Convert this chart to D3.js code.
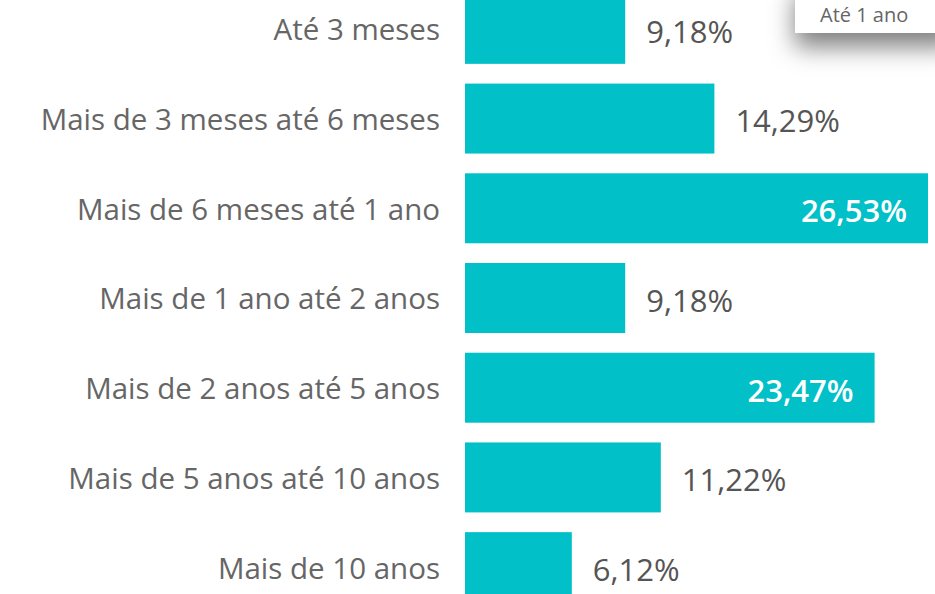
<!DOCTYPE html>
<html>
<head>
<meta charset="utf-8">
<script src="https://cdn.jsdelivr.net/npm/d3@7"></script>
<style>
    body { margin: 0; background: #fff; overflow: hidden; }
    svg { display: block; }
</style>
</head>
<body>
<script>
const categories = ["Até 3 meses", "Mais de 3 meses até 6 meses", "Mais de 6 meses até 1 ano", "Mais de 1 ano até 2 anos", "Mais de 2 anos até 5 anos", "Mais de 5 anos até 10 anos", "Mais de 10 anos"];
const values = [9.18, 14.29, 26.53, 9.18, 23.47, 11.22, 6.12];
const tooltipText = "Até 1 ano";

const width = 935;
const height = 594;
const font = "'Open Sans', 'Noto Sans', sans-serif";

let svg = d3.select("body")
    .append("svg")
    .attr("width", width)
    .attr("height", height);

const data = categories.map((c, i) => ({ cat: c, val: values[i] }));

//scales
let yScale = d3.scaleBand()
    .domain(categories)
    .range([-16, 612])
    .paddingInner(0.22)
    .paddingOuter(0.11);

let xScale = d3.scaleLinear()
    .domain([0, d3.max(values)])
    .range([465, 928]);

//bars
svg.selectAll("rect.bar")
    .data(data)
    .enter()
    .append("rect")
    .attr("class", "bar")
    .attr("x", xScale(0))
    .attr("y", d => yScale(d.cat))
    .attr("width", d => xScale(d.val) - xScale(0))
    .attr("height", yScale.bandwidth())
    .attr("fill", "#01c0c8");

//value labels
const fmt = v => v.toFixed(2).replace(".", ",") + "%";
svg.selectAll("text.val")
    .data(data)
    .enter()
    .append("text")
    .attr("class", "val")
    .attr("x", d => d.val > 20 ? xScale(d.val) - 21 : xScale(d.val) + 21)
    .attr("y", d => yScale(d.cat) + yScale.bandwidth() / 2 + 3)
    .attr("dy", "0.35em")
    .attr("text-anchor", d => d.val > 20 ? "end" : "start")
    .attr("fill", d => d.val > 20 ? "#ffffff" : "#555555")
    .attr("font-family", font)
    .attr("font-weight", d => d.val > 20 ? 600 : 400)
    .attr("font-size", 31)
    .text(d => fmt(d.val));

//category axis
const yAxis = d3.axisLeft(yScale).tickSize(0).tickPadding(25);
let gy = svg.append("g")
    .attr("transform", `translate(${xScale(0)}, 2)`)
    .call(yAxis);
gy.select(".domain").remove();
gy.selectAll("text")
    .attr("fill", "#666666")
    .attr("font-family", font)
    .attr("font-size", 29.5);

//tooltip remnant
let defs = svg.append("defs");
let f = defs.append("filter").attr("id", "shadow").attr("x", "-30%").attr("y", "-30%").attr("width", "160%").attr("height", "300%");
f.append("feDropShadow").attr("dx", 0).attr("dy", 14).attr("stdDeviation", 12).attr("flood-color", "#000").attr("flood-opacity", 0.5);

svg.append("rect")
    .attr("x", 795)
    .attr("y", -20)
    .attr("width", 160)
    .attr("height", 53)
    .attr("fill", "#fff")
    .attr("filter", "url(#shadow)");

svg.append("text")
    .attr("x", 820)
    .attr("y", 22)
    .attr("fill", "#666666")
    .attr("font-family", font)
    .attr("font-size", 20)
    .text(tooltipText);
</script>
</body>
</html>
